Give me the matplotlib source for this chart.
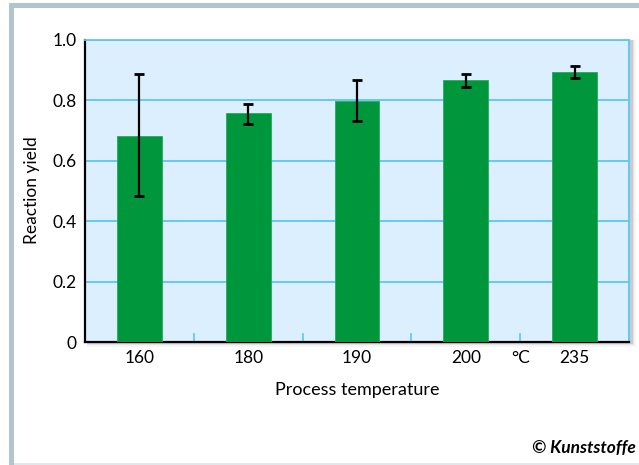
import matplotlib
matplotlib.use("Agg")
import matplotlib.pyplot as plt
from matplotlib.patches import Rectangle

temps = ["160", "180", "190", "200", "235"]
yields = [0.683, 0.759, 0.798, 0.866, 0.894]
err_low = [0.483, 0.723, 0.732, 0.844, 0.874]
err_high = [0.887, 0.789, 0.868, 0.886, 0.915]
y_ticks = [0, 0.2, 0.4, 0.6, 0.8, 1.0]
y_tick_labels = ["0", "0.2", "0.4", "0.6", "0.8", "1.0"]

plt.rcParams['font.family'] = ['Lato', 'DejaVu Sans']

W, H = 639, 465
fig = plt.figure(figsize=(W / 100, H / 100), dpi=100)
fig.patch.set_facecolor("white")

# decorative frame
border = "#b2c5ce"
fig.add_artist(Rectangle((9 / W, 1 - 8 / H), 1 - 9 / W, 5 / H, transform=fig.transFigure,
                         facecolor=border, edgecolor="none"))
fig.add_artist(Rectangle((9 / W, 0), 5 / W, 1 - 3 / H, transform=fig.transFigure,
                         facecolor=border, edgecolor="none"))
fig.add_artist(Rectangle((14 / W, 0), 1 - 14 / W, 2 / H, transform=fig.transFigure,
                         facecolor="#dfe7eb", edgecolor="none"))

left, right, top, bottom = 85, 629, 40, 342
ax = fig.add_axes([left / W, 1 - bottom / H, (right - left) / W, (bottom - top) / H])

# soft shadow behind plot area
for i, a in enumerate([0.10, 0.07, 0.04]):
    d = (i + 1) * 1.5
    fig.add_artist(Rectangle(((left + 2) / W, 1 - (bottom + d) / H), (right - left + d) / W,
                             (bottom - top + d) / H, transform=fig.transFigure,
                             facecolor="black", alpha=a, edgecolor="none", zorder=0))

ax.set_facecolor("#dcefff")
x = list(range(len(temps)))
yerr = [[y - lo for y, lo in zip(yields, err_low)], [hi - y for y, hi in zip(yields, err_high)]]
ax.bar(x, yields, width=0.41, color="#00963c", edgecolor="#2aa85a", linewidth=0.6, zorder=3)
ax.errorbar(x, yields, yerr=yerr, fmt="none", ecolor="black", elinewidth=1.6,
            capsize=3.6, capthick=2, zorder=4)

ax.set_xlim(-0.5, 4.5)
ax.set_ylim(0, 1.0)
ax.set_yticks(y_ticks)
ax.set_yticklabels(y_tick_labels, fontsize=12.5)
ax.tick_params(axis="y", length=0, pad=6)
ax.yaxis.grid(True, color="#5cc6f4", linewidth=1.3, zorder=1)
ax.set_axisbelow(True)

# x labels at bar centres, plus unit label
ax.set_xticks(x + [3.5])
ax.set_xticklabels(temps + ["°C"], fontsize=12.5)
ax.tick_params(axis="x", length=0, pad=6)
for xt in [0.5, 1.5, 2.5, 3.5]:
    ax.plot([xt, xt], [0, 0.025], color="#5cc6f4", linewidth=1.2, zorder=2)

for s in ["left", "bottom"]:
    ax.spines[s].set_color("black")
    ax.spines[s].set_linewidth(1.6)
for s in ["top", "right"]:
    ax.spines[s].set_color("#5cc6f4")
    ax.spines[s].set_linewidth(1.3)

fig.text(357 / W, 1 - 390 / H, "Process temperature", fontsize=13, ha="center", va="center")
fig.text(32 / W, 1 - 190 / H, "Reaction yield", fontsize=12.5, ha="center", va="center",
         rotation=90)
fig.text(636 / W, 1 - 448 / H, "© Kunststoffe", fontsize=12.5, ha="right", va="center",
         fontweight="bold", fontstyle="italic")

fig.savefig("out.png", dpi=100)
